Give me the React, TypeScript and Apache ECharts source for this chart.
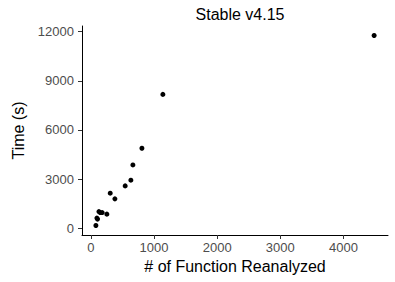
import React, { useEffect, useRef } from "react";
import * as echarts from "echarts";

const titleText = "Stable v4.15";
const xAxisTitle = "# of Function Reanalyzed";
const yAxisTitle = "Time (s)";
const xTicks = [0, 1000, 2000, 3000, 4000];
const yTicks = [0, 3000, 6000, 9000, 12000];
const functionsReanalyzed = [4486, 1140, 808, 665, 633, 543, 306, 380, 253, 179, 127, 147, 95, 105, 79];
const timeSeconds = [11768, 8170, 4878, 3860, 2927, 2579, 2134, 1787, 854, 951, 1012, 951, 610, 549, 159];

const FONT = "'Liberation Sans', Arial, Helvetica, sans-serif";

export default function App() {
  const ref = useRef<HTMLDivElement>(null);
  useEffect(() => {
    if (!ref.current) return;
    const chart = echarts.init(ref.current, null, { renderer: "svg" });
    const data = functionsReanalyzed.map((x, i) => [x, timeSeconds[i]]);
    chart.setOption({
      animation: false,
      backgroundColor: "#ffffff",
      title: {
        text: titleText,
        left: 235,
        top: 1,
        textAlign: "center",
        textStyle: { fontFamily: FONT, fontSize: 16, fontWeight: "normal", color: "#000000" },
      },
      grid: { left: 82, right: 7, top: 26, bottom: 47, containLabel: false },
      xAxis: {
        type: "value",
        min: -141,
        max: 4706,
        name: xAxisTitle,
        nameLocation: "middle",
        nameGap: 23,
        nameTextStyle: { fontFamily: FONT, fontSize: 16, color: "#000000" },
        splitLine: { show: false },
        axisLine: { onZero: false, lineStyle: { color: "#000000", width: 1 } },
        axisTick: { customValues: xTicks, length: 4, lineStyle: { color: "#333333", width: 1 } },
        axisLabel: {
          customValues: xTicks,
          formatter: (v: number) => String(v),
          color: "#4D4D4D",
          fontSize: 13,
          fontFamily: FONT,
          margin: 6,
        },
      },
      yAxis: {
        type: "value",
        min: -421,
        max: 12348,
        name: yAxisTitle,
        nameLocation: "middle",
        nameGap: 43,
        nameTextStyle: { fontFamily: FONT, fontSize: 16, color: "#000000" },
        splitLine: { show: false },
        axisLine: { show: true, onZero: false, lineStyle: { color: "#000000", width: 1 } },
        axisTick: { show: true, customValues: yTicks, length: 4, lineStyle: { color: "#333333", width: 1 } },
        axisLabel: {
          customValues: yTicks,
          formatter: (v: number) => String(v),
          color: "#4D4D4D",
          fontSize: 13,
          fontFamily: FONT,
          margin: 8,
        },
      },
      series: [
        {
          type: "scatter",
          data,
          symbol: "circle",
          symbolSize: 5,
          itemStyle: { color: "#000000", opacity: 1 },
        },
      ],
    });
    return () => chart.dispose();
  }, []);
  return <div ref={ref} style={{ position: "fixed", left: 0, top: 0, width: 395, height: 282 }} />;
}
